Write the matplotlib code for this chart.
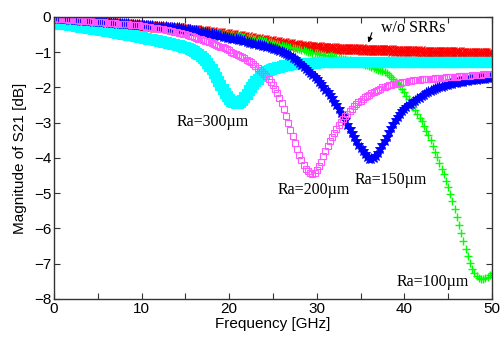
import numpy as np
import matplotlib
matplotlib.use("Agg")
import matplotlib.pyplot as plt
from matplotlib.ticker import MultipleLocator

freq = np.arange(0, 50.001, 0.25)  # GHz sample grid

s21_wo = [
    -0.040, -0.045, -0.050, -0.055, -0.060, -0.065, -0.070, -0.075,
    -0.080, -0.085, -0.090, -0.095, -0.100, -0.105, -0.110, -0.115,
    -0.120, -0.125, -0.130, -0.135, -0.140, -0.145, -0.150, -0.155,
    -0.160, -0.165, -0.170, -0.175, -0.180, -0.185, -0.190, -0.195,
    -0.200, -0.205, -0.210, -0.215, -0.220, -0.225, -0.230, -0.235,
    -0.240, -0.245, -0.250, -0.255, -0.260, -0.265, -0.270, -0.275,
    -0.280, -0.285, -0.290, -0.295, -0.300, -0.305, -0.310, -0.315,
    -0.320, -0.325, -0.330, -0.340, -0.350, -0.355, -0.360, -0.365,
    -0.370, -0.380, -0.390, -0.395, -0.400, -0.410, -0.420, -0.425,
    -0.430, -0.440, -0.450, -0.455, -0.460, -0.470, -0.480, -0.490,
    -0.500, -0.510, -0.520, -0.530, -0.540, -0.550, -0.560, -0.570,
    -0.580, -0.590, -0.600, -0.610, -0.620, -0.630, -0.640, -0.650,
    -0.660, -0.670, -0.680, -0.690, -0.700, -0.710, -0.720, -0.730,
    -0.740, -0.750, -0.760, -0.770, -0.780, -0.790, -0.800, -0.805,
    -0.810, -0.820, -0.830, -0.835, -0.840, -0.845, -0.850, -0.855,
    -0.860, -0.865, -0.870, -0.875, -0.880, -0.885, -0.890, -0.890,
    -0.890, -0.895, -0.900, -0.900, -0.900, -0.905, -0.910, -0.910,
    -0.910, -0.915, -0.920, -0.920, -0.920, -0.925, -0.930, -0.930,
    -0.930, -0.935, -0.940, -0.940, -0.940, -0.940, -0.940, -0.945,
    -0.950, -0.950, -0.950, -0.955, -0.960, -0.960, -0.960, -0.960,
    -0.960, -0.965, -0.970, -0.970, -0.970, -0.970, -0.970, -0.975,
    -0.980, -0.980, -0.980, -0.980, -0.980, -0.985, -0.990, -0.990,
    -0.990, -0.990, -0.990, -0.995, -1.000, -1.000, -1.000, -1.000,
    -1.000, -1.005, -1.010, -1.010, -1.010, -1.010, -1.010, -1.015,
    -1.020, -1.020, -1.020, -1.020, -1.020, -1.025, -1.030, -1.030,
    -1.030,
]

s21_ra100 = [
    -0.040, -0.045, -0.050, -0.055, -0.060, -0.065, -0.070, -0.075,
    -0.080, -0.085, -0.090, -0.095, -0.100, -0.105, -0.110, -0.115,
    -0.120, -0.125, -0.130, -0.135, -0.140, -0.145, -0.150, -0.155,
    -0.160, -0.165, -0.170, -0.175, -0.180, -0.185, -0.190, -0.195,
    -0.200, -0.205, -0.210, -0.215, -0.220, -0.225, -0.230, -0.235,
    -0.240, -0.245, -0.250, -0.255, -0.260, -0.265, -0.270, -0.275,
    -0.280, -0.285, -0.290, -0.295, -0.300, -0.305, -0.310, -0.315,
    -0.320, -0.325, -0.330, -0.340, -0.350, -0.355, -0.360, -0.365,
    -0.370, -0.380, -0.390, -0.395, -0.400, -0.410, -0.420, -0.425,
    -0.430, -0.440, -0.450, -0.455, -0.460, -0.470, -0.480, -0.490,
    -0.500, -0.510, -0.520, -0.530, -0.540, -0.550, -0.560, -0.570,
    -0.585, -0.595, -0.605, -0.615, -0.630, -0.640, -0.650, -0.665,
    -0.680, -0.690, -0.700, -0.715, -0.740, -0.755, -0.770, -0.785,
    -0.800, -0.815, -0.830, -0.845, -0.860, -0.875, -0.890, -0.905,
    -0.920, -0.935, -0.950, -0.965, -0.980, -0.995, -1.010, -1.020,
    -1.030, -1.045, -1.060, -1.070, -1.080, -1.095, -1.110, -1.120,
    -1.130, -1.145, -1.160, -1.170, -1.180, -1.195, -1.210, -1.225,
    -1.240, -1.255, -1.270, -1.285, -1.300, -1.325, -1.350, -1.375,
    -1.400, -1.420, -1.440, -1.465, -1.490, -1.515, -1.540, -1.570,
    -1.600, -1.650, -1.700, -1.765, -1.830, -1.900, -1.970, -2.055,
    -2.140, -2.240, -2.340, -2.445, -2.550, -2.650, -2.750, -2.855,
    -2.960, -3.090, -3.220, -3.360, -3.500, -3.660, -3.820, -3.980,
    -4.140, -4.300, -4.460, -4.640, -4.820, -5.020, -5.220, -5.450,
    -5.680, -5.910, -6.140, -6.360, -6.580, -6.790, -6.980, -7.140,
    -7.260, -7.340, -7.400, -7.420, -7.430, -7.410, -7.370, -7.320,
    -7.250,
]

s21_ra150 = [
    -0.040, -0.045, -0.050, -0.055, -0.060, -0.065, -0.070, -0.075,
    -0.080, -0.085, -0.090, -0.095, -0.100, -0.105, -0.110, -0.115,
    -0.120, -0.125, -0.130, -0.135, -0.140, -0.145, -0.150, -0.155,
    -0.160, -0.165, -0.170, -0.175, -0.180, -0.185, -0.190, -0.195,
    -0.200, -0.205, -0.210, -0.215, -0.220, -0.225, -0.230, -0.235,
    -0.240, -0.245, -0.250, -0.255, -0.260, -0.265, -0.270, -0.275,
    -0.280, -0.285, -0.290, -0.295, -0.300, -0.305, -0.310, -0.315,
    -0.320, -0.325, -0.330, -0.340, -0.360, -0.370, -0.380, -0.390,
    -0.400, -0.410, -0.420, -0.430, -0.440, -0.450, -0.460, -0.475,
    -0.490, -0.500, -0.510, -0.525, -0.540, -0.555, -0.570, -0.585,
    -0.600, -0.610, -0.620, -0.635, -0.650, -0.665, -0.680, -0.695,
    -0.710, -0.725, -0.740, -0.755, -0.770, -0.785, -0.800, -0.815,
    -0.830, -0.845, -0.860, -0.880, -0.900, -0.920, -0.940, -0.965,
    -0.990, -1.020, -1.050, -1.085, -1.120, -1.160, -1.200, -1.250,
    -1.300, -1.355, -1.410, -1.465, -1.520, -1.580, -1.640, -1.705,
    -1.770, -1.840, -1.910, -1.985, -2.060, -2.140, -2.220, -2.310,
    -2.400, -2.500, -2.600, -2.710, -2.820, -2.935, -3.050, -3.165,
    -3.280, -3.400, -3.520, -3.620, -3.720, -3.810, -3.900, -3.960,
    -4.020, -4.020, -4.000, -3.940, -3.860, -3.750, -3.640, -3.520,
    -3.400, -3.270, -3.140, -3.030, -2.920, -2.830, -2.740, -2.670,
    -2.600, -2.550, -2.500, -2.460, -2.420, -2.375, -2.330, -2.285,
    -2.240, -2.200, -2.160, -2.130, -2.100, -2.075, -2.050, -2.025,
    -2.000, -1.980, -1.960, -1.940, -1.920, -1.905, -1.890, -1.875,
    -1.860, -1.850, -1.840, -1.830, -1.820, -1.810, -1.800, -1.790,
    -1.780, -1.775, -1.770, -1.760, -1.750, -1.745, -1.740, -1.735,
    -1.730,
]

s21_ra200 = [
    -0.040, -0.045, -0.050, -0.055, -0.060, -0.065, -0.070, -0.075,
    -0.080, -0.085, -0.090, -0.095, -0.100, -0.105, -0.110, -0.115,
    -0.120, -0.125, -0.130, -0.135, -0.140, -0.145, -0.150, -0.155,
    -0.160, -0.165, -0.170, -0.175, -0.180, -0.185, -0.190, -0.195,
    -0.200, -0.205, -0.210, -0.215, -0.220, -0.225, -0.230, -0.235,
    -0.250, -0.260, -0.270, -0.280, -0.290, -0.300, -0.310, -0.320,
    -0.330, -0.340, -0.350, -0.360, -0.370, -0.385, -0.400, -0.415,
    -0.430, -0.445, -0.460, -0.475, -0.490, -0.510, -0.530, -0.550,
    -0.570, -0.590, -0.610, -0.630, -0.650, -0.670, -0.690, -0.715,
    -0.740, -0.765, -0.790, -0.815, -0.840, -0.865, -0.890, -0.920,
    -0.950, -0.980, -1.010, -1.040, -1.070, -1.105, -1.140, -1.175,
    -1.210, -1.250, -1.290, -1.335, -1.380, -1.435, -1.490, -1.550,
    -1.610, -1.680, -1.750, -1.835, -1.920, -2.030, -2.150, -2.300,
    -2.450, -2.620, -2.800, -3.000, -3.200, -3.390, -3.580, -3.750,
    -3.920, -4.060, -4.200, -4.300, -4.380, -4.430, -4.450, -4.420,
    -4.350, -4.240, -4.100, -3.950, -3.800, -3.660, -3.520, -3.400,
    -3.280, -3.175, -3.070, -2.985, -2.900, -2.820, -2.740, -2.670,
    -2.600, -2.535, -2.470, -2.420, -2.370, -2.325, -2.280, -2.240,
    -2.200, -2.160, -2.120, -2.090, -2.060, -2.030, -2.000, -1.980,
    -1.960, -1.940, -1.920, -1.905, -1.890, -1.875, -1.860, -1.850,
    -1.840, -1.830, -1.820, -1.810, -1.800, -1.795, -1.790, -1.780,
    -1.770, -1.765, -1.760, -1.755, -1.750, -1.745, -1.740, -1.735,
    -1.730, -1.725, -1.720, -1.715, -1.710, -1.705, -1.700, -1.695,
    -1.690, -1.685, -1.680, -1.675, -1.670, -1.665, -1.660, -1.655,
    -1.650, -1.645, -1.640, -1.635, -1.630, -1.625, -1.620, -1.615,
    -1.610,
]

s21_ra300 = [
    -0.170, -0.175, -0.180, -0.190, -0.200, -0.205, -0.210, -0.220,
    -0.230, -0.240, -0.250, -0.260, -0.270, -0.280, -0.290, -0.300,
    -0.310, -0.320, -0.330, -0.340, -0.350, -0.360, -0.370, -0.380,
    -0.390, -0.400, -0.410, -0.420, -0.430, -0.445, -0.460, -0.470,
    -0.480, -0.490, -0.500, -0.510, -0.520, -0.535, -0.550, -0.560,
    -0.570, -0.585, -0.600, -0.610, -0.620, -0.635, -0.650, -0.660,
    -0.670, -0.685, -0.700, -0.715, -0.730, -0.745, -0.760, -0.775,
    -0.790, -0.805, -0.820, -0.840, -0.860, -0.885, -0.910, -0.940,
    -0.970, -1.010, -1.050, -1.100, -1.150, -1.220, -1.300, -1.390,
    -1.480, -1.590, -1.700, -1.815, -1.930, -2.040, -2.150, -2.240,
    -2.320, -2.380, -2.420, -2.440, -2.440, -2.420, -2.360, -2.280,
    -2.180, -2.080, -1.980, -1.895, -1.810, -1.745, -1.680, -1.630,
    -1.580, -1.545, -1.510, -1.485, -1.460, -1.440, -1.420, -1.405,
    -1.390, -1.375, -1.360, -1.350, -1.340, -1.335, -1.330, -1.325,
    -1.320, -1.315, -1.310, -1.305, -1.300, -1.300, -1.300, -1.295,
    -1.290, -1.290, -1.290, -1.290, -1.290, -1.290, -1.290, -1.290,
    -1.285, -1.285, -1.285, -1.285, -1.280, -1.280, -1.280, -1.280,
    -1.280, -1.280, -1.280, -1.280, -1.280, -1.280, -1.280, -1.280,
    -1.280, -1.280, -1.280, -1.280, -1.280, -1.280, -1.280, -1.280,
    -1.280, -1.280, -1.280, -1.280, -1.280, -1.280, -1.280, -1.280,
    -1.280, -1.280, -1.280, -1.280, -1.280, -1.280, -1.280, -1.280,
    -1.280, -1.280, -1.280, -1.280, -1.280, -1.280, -1.280, -1.280,
    -1.280, -1.280, -1.280, -1.280, -1.280, -1.280, -1.280, -1.280,
    -1.280, -1.280, -1.280, -1.280, -1.280, -1.280, -1.280, -1.280,
    -1.285, -1.285, -1.285, -1.285, -1.285, -1.285, -1.285, -1.285,
    -1.285,
]

x_ticks = [0, 10, 20, 30, 40, 50]
y_ticks = [0, -1, -2, -3, -4, -5, -6, -7, -8]

fig = plt.figure(figsize=(5.04, 3.40), dpi=100)
ax = fig.add_axes([0.107, 0.1206, 0.869, 0.8294])

ax.plot(freq, s21_wo, ls='none', marker='x', ms=6.5, mec='#ff0000', mew=1.0)
ax.plot(freq, s21_ra100, ls='none', marker='+', ms=6, mec='#00ff00', mew=1.0)
ax.plot(freq, s21_ra300, ls='none', marker='s', ms=7.5, mfc='#00ffff', mec='#00ffff', mew=0.8)
ax.plot(freq, s21_ra150, ls='none', marker='*', ms=8, mfc='#0000ff', mec='#0000ff', mew=0.6)
ax.plot(freq, s21_ra200, ls='none', marker='s', ms=5, mfc='none', mec='#ff55ff', mew=0.8)

ax.set_xlim(0, 50)
ax.set_ylim(-8, 0)
ax.set_xticks(x_ticks)
ax.set_yticks(y_ticks)
ax.xaxis.set_minor_locator(MultipleLocator(5))
ax.tick_params(which='both', direction='in', top=True, right=True, length=4, width=0.8,
               labelsize=11, colors='#333333', labelcolor='black', pad=2)
for sp in ax.spines.values():
    sp.set_color('#333333')
    sp.set_linewidth(1.0)
for lab in ax.get_xticklabels() + ax.get_yticklabels():
    lab.set_family('Liberation Sans')

ax.set_xlabel('Frequency [GHz]', fontsize=11, family='Liberation Sans', labelpad=1)
ax.set_ylabel('Magnitude of S21 [dB]', fontsize=11, family='Liberation Sans', labelpad=5)

serif = dict(family='Liberation Serif', fontsize=11.5)
ax.text(41.0, -0.31, 'w/o SRRs', ha='center', va='center', **serif)
ax.annotate('', xy=(35.8, -0.8), xytext=(36.4, -0.37),
            arrowprops=dict(arrowstyle='-|>', color='black', lw=0.8, mutation_scale=7))
ax.text(18.1, -2.98, 'Ra=300\u00b5m', ha='center', va='center', **serif)
ax.text(29.7, -4.91, 'Ra=200\u00b5m', ha='center', va='center', **serif)
ax.text(38.5, -4.62, 'Ra=150\u00b5m', ha='center', va='center', **serif)
ax.text(43.2, -7.52, 'Ra=100\u00b5m', ha='center', va='center', **serif)

fig.savefig('out.png', dpi=100)
